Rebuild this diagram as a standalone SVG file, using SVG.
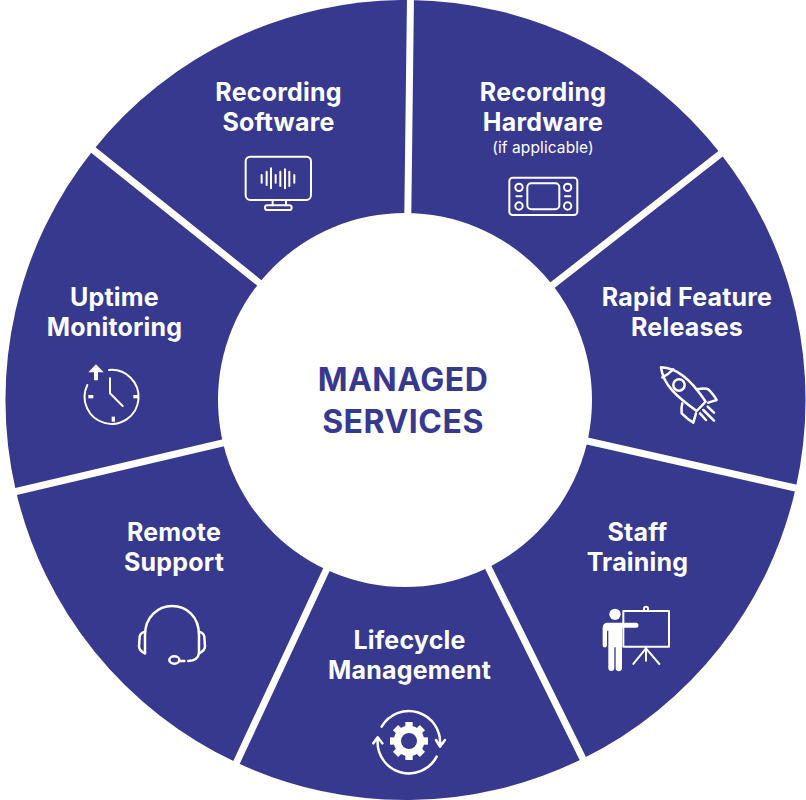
<svg xmlns="http://www.w3.org/2000/svg" width="806" height="800" viewBox="0 0 806 800">
<style>
.w{fill:#37398f}
.t{font-family:"Inter","Noto Sans",sans-serif;font-weight:700;font-size:25px;fill:#fff;text-anchor:middle;letter-spacing:.2px}
.s{font-family:"Inter","Noto Sans",sans-serif;font-weight:400;font-size:15.500px;fill:#fff;text-anchor:middle;letter-spacing:.1px}
.c{font-family:"Inter","Noto Sans",sans-serif;font-weight:700;font-size:32px;fill:#37398f;text-anchor:middle;letter-spacing:.5px}
.i{fill:none;stroke:#fff;stroke-width:6;stroke-linecap:round;stroke-linejoin:round}
.b{stroke-width:7.500}
.f{fill:#fff;stroke:none}
.d{stroke:#fff;stroke-width:7;fill:none}
</style>
<rect width="806" height="800" fill="#fff"/>
<g id="node-recording-software">
<path class="w" d="M405.5 400L93.3 149.9A400 400 0 0 1 410.4 0Z"/>
<text class="t" x="278.5" y="101">Recording</text><text class="t" x="278.5" y="131">Software</text>
<g class="i" transform="translate(200 60) scale(.3333)">
<rect x="137" y="290" width="196" height="130" rx="14"/><path d="M218 420V436M258 420V436"/><rect x="195" y="436" width="80" height="14" rx="7"/>
<path d="M185 345V368M200 335V375M213 325V385M227 345V368M241 335V378M255 328V385M268 335V378M283 345V368"/>
</g>
</g>
<g id="node-recording-hardware">
<path class="w" d="M405.5 400L410.4 0A400 400 0 0 1 720.7 153.7Z"/>
<text class="t" x="543" y="101">Recording</text><text class="t" x="543" y="131">Hardware</text>
<text class="s" x="543" y="153">(if applicable)</text>
<g class="i" transform="translate(470 130) scale(.3333)">
<rect x="118" y="143" width="204" height="112" rx="10"/><rect x="172" y="160" width="96" height="78" rx="12"/>
<circle cx="147" cy="172" r="11"/><circle cx="147" cy="228" r="11"/><circle cx="293" cy="172" r="11"/><circle cx="293" cy="228" r="11"/>
<path d="M139 199H155M285 199H301"/>
</g>
</g>
<g id="node-rapid-feature-releases">
<path class="w" d="M405.5 400L720.7 153.7A400 400 0 0 1 795.9 487.3Z"/>
<text class="t" x="687" y="306">Rapid Feature</text><text class="t" x="687" y="336">Releases</text>
<g class="i b" transform="translate(640 350) scale(.3333)">
<path d="M63 52C110 54 150 85 197 155L170 183C110 140 70 105 63 52Z"/><path d="M67 82C78 76 90 68 100 58"/>
<circle cx="117" cy="105" r="17"/>
<path d="M170 118C185 115 200 115 205 118C215 128 225 140 230 150L205 158"/>
<path d="M127 160C124 170 124 182 125 190C135 200 150 212 160 218L168 190"/>
<path d="M180 190L198 210M190 180L222 212M203 170L222 188"/>
</g>
</g>
<g id="node-staff-training">
<path class="w" d="M405.5 400L795.9 487.3A400 400 0 0 1 583 758.500Z"/>
<text class="t" x="637.5" y="541">Staff</text><text class="t" x="637.5" y="571">Training</text>
<g transform="translate(590 590) scale(.3333)">
<g class="i"><rect x="100" y="63" width="137" height="107"/><path d="M162 62V56A6 6 0 0 1 174 56V62M168 170V212M168 175L130 222M168 175L208 222"/></g>
<circle class="f" cx="75" cy="73" r="17"/>
<path class="f" d="M52 98H138A7.500 7.500 0 0 1 138 113H96V234A9 9 0 0 1 77 234V172H73V234A9 9 0 0 1 55 234V122H51V166A6.500 6.500 0 0 1 38 166V112A14 14 0 0 1 52 98Z"/>
</g>
</g>
<g id="node-lifecycle-management">
<path class="w" d="M405.500 400L583 758.500A400 400 0 0 1 236.500 762.500Z"/>
<text class="t" x="409.500" y="649">Lifecycle</text><text class="t" x="409.500" y="679">Management</text>
<g transform="translate(360 695) scale(.3333)">
<g class="i b"><path d="M65 95A94 94 0 0 1 240 150M228 135L240 155L255 135M230 185A94 94 0 0 1 53 135M40 145L53 127L67 145"/></g>
<g transform="translate(147 138)">
<circle r="35" fill="none" stroke="#fff" stroke-width="22"/>
<g class="f"><rect x="-11" y="-57" width="22" height="20"/><rect x="-11" y="-57" width="22" height="20" transform="rotate(45)"/><rect x="-11" y="-57" width="22" height="20" transform="rotate(90)"/><rect x="-11" y="-57" width="22" height="20" transform="rotate(135)"/><rect x="-11" y="-57" width="22" height="20" transform="rotate(180)"/><rect x="-11" y="-57" width="22" height="20" transform="rotate(225)"/><rect x="-11" y="-57" width="22" height="20" transform="rotate(270)"/><rect x="-11" y="-57" width="22" height="20" transform="rotate(315)"/></g>
</g>
</g>
</g>
<g id="node-remote-support">
<path class="w" d="M405.500 400L236.500 762.500A400 400 0 0 1 15.700 490Z"/>
<text class="t" x="174" y="541">Remote</text><text class="t" x="174" y="571">Support</text>
<g class="i b" transform="translate(125 595) scale(.3333)">
<path d="M60 175V120C60 65 100 33 141 33C185 33 222 65 222 120V175"/>
<path d="M60 110C50 113 45 118 44 125L42 155C43 165 52 172 60 175M222 110C232 113 237 118 238 125L240 155C239 165 230 172 222 175"/>
<path d="M222 175C220 188 212 197 190 198M178 198H165"/><ellipse cx="148" cy="195" rx="15" ry="11"/>
</g>
</g>
<g id="node-uptime-monitoring">
<path class="w" d="M405.500 400L15.700 490A400 400 0 0 1 93.300 149.900Z"/>
<text class="t" x="114.500" y="306">Uptime</text><text class="t" x="114.500" y="336">Monitoring</text>
<g class="i" transform="translate(70 355) scale(.3333)">
<path d="M117 45A81 81 0 1 1 52 90M120 70V115L158 153"/>
</g>
<g class="f" transform="translate(70 355) scale(.3333)">
<rect x="55" y="120" width="15" height="10"/><rect x="190" y="120" width="15" height="10"/><rect x="125" y="185" width="10" height="15"/>
<path d="M78 28L101 52H84V76H72V52H55Z"/>
</g>
</g>
<g id="connectors" class="d">
<path d="M405.500 400L410.500 -4M405.500 400L723.800 151.300M405.500 400L799.800 489M405.500 400L584.800 762.500M405.500 400L234.800 766.100M405.500 400L11.800 492.500M405.500 400L90.200 147.400"/>
</g>
<g id="node-managed-services">
<circle cx="405" cy="400" r="187" fill="#fff"/>
<text class="c" x="403" y="391">MANAGED</text><text class="c" x="403" y="433">SERVICES</text>
</g>
</svg>
